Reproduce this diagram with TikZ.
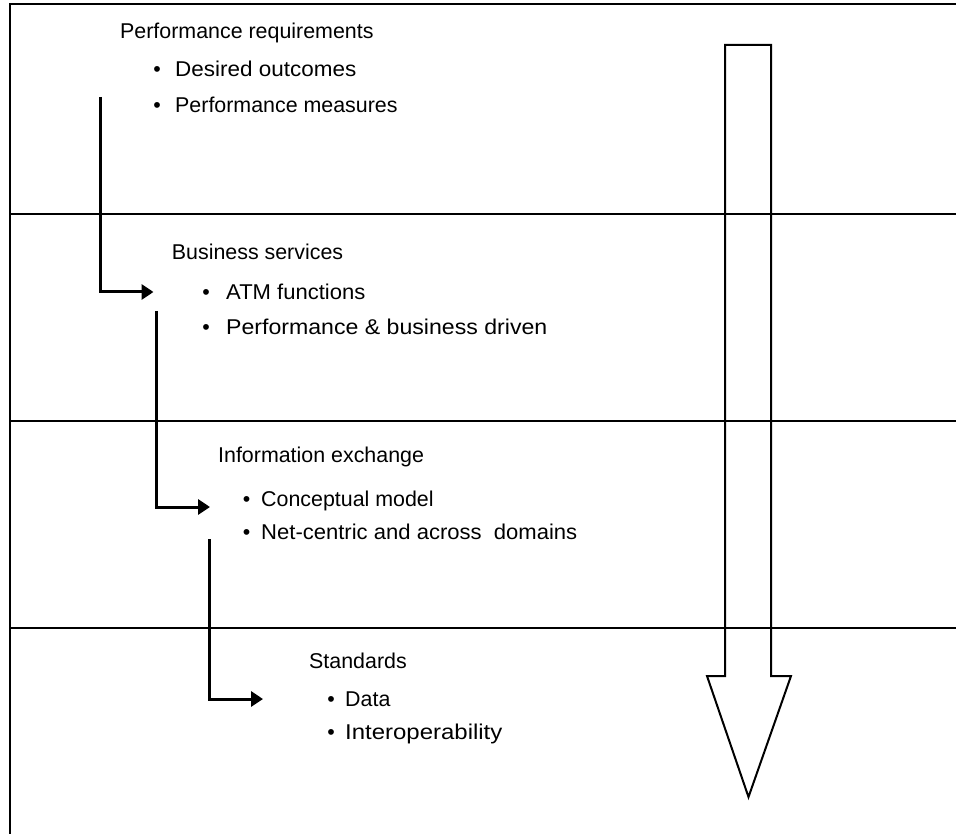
\documentclass[tikz,border=0pt]{standalone}
\usepackage{fontspec}
\setmainfont{Liberation Sans}
\usetikzlibrary{arrows.meta}
\begin{document}
\begin{tikzpicture}[x=1pt,y=-1pt,
  txt/.style={anchor=base west,inner sep=0pt,font=\fontsize{21.4}{25}\selectfont},
  bul/.style={anchor=base,inner sep=0pt,font=\fontsize{21.4}{25}\selectfont},
  frameline/.style={line width=2pt},
  sepline/.style={line width=1.4pt},
  elbow/.style={line width=3pt,miter limit=10,-{Triangle[length=12pt,width=15pt]}},
  bigarrow/.style={line width=2pt,line join=miter}]
\useasboundingbox (0,0) rectangle (956,834);
% frame
\draw[frameline] (956,4) -- (10,4) -- (10,834);
% separators
\draw[sepline] (10,214) -- (956,214);
\draw[sepline] (10,421) -- (956,421);
\draw[sepline] (10,628) -- (956,628);
% big arrow
\draw[bigarrow] (725,45) -- (771,45) -- (771,676) -- (791,676) -- (748.5,797) -- (707,676) -- (725,676) -- cycle;
% section 1
\node[txt] (h1) at (120,39) {Performance requirements};
\node[bul] (b11) at (157,77) {•};
\node[txt] (t11) at (175,77) {\scalebox{1.05}[1]{Desired outcomes}};
\node[bul] (b12) at (157,113) {•};
\node[txt] (t12) at (175,113) {Performance measures};
% section 2
\node[txt] (h2) at (171.7,260) {Business services};
\node[bul] (b21) at (206,299.3) {•};
\node[txt] (t21) at (226,299.3) {\scalebox{1.03}[1]{ATM functions}};
\node[bul] (b22) at (206,334.7) {•};
\node[txt] (t22) at (226,334.7) {\scalebox{1.08}[1]{Performance \& business driven}};
% section 3
\node[txt] (h3) at (218,462.7) {Information exchange};
\node[bul] (b31) at (246.7,506.7) {•};
\node[txt] (t31) at (261,506.7) {Conceptual model};
\node[bul] (b32) at (246.7,539.3) {•};
\node[txt] (t32) at (261,539.3) {\scalebox{1.03}[1]{Net-centric and across\ \ domains}};
% section 4
\node[txt] (h4) at (309,668) {Standards};
\node[bul] (b41) at (331,706) {•};
\node[txt] (t41) at (345,706) {Data};
\node[bul] (b42) at (331,739) {•};
\node[txt] (t42) at (345,739) {\scalebox{1.12}[1]{Interoperability}};
% elbow arrows
\coordinate (e1s) at (100,97);
\coordinate (e1c) at (100,292);
\coordinate (e1e) at (153.5,292);
\coordinate (e2s) at (156,311);
\coordinate (e2c) at (156,507);
\coordinate (e2e) at (210,507);
\coordinate (e3s) at (209,539);
\coordinate (e3c) at (209,699);
\coordinate (e3e) at (263,699);
\draw[elbow] (e1s) -- (e1c) -- (e1e);
\draw[elbow] (e2s) -- (e2c) -- (e2e);
\draw[elbow] (e3s) -- (e3c) -- (e3e);
\end{tikzpicture}
\end{document}
